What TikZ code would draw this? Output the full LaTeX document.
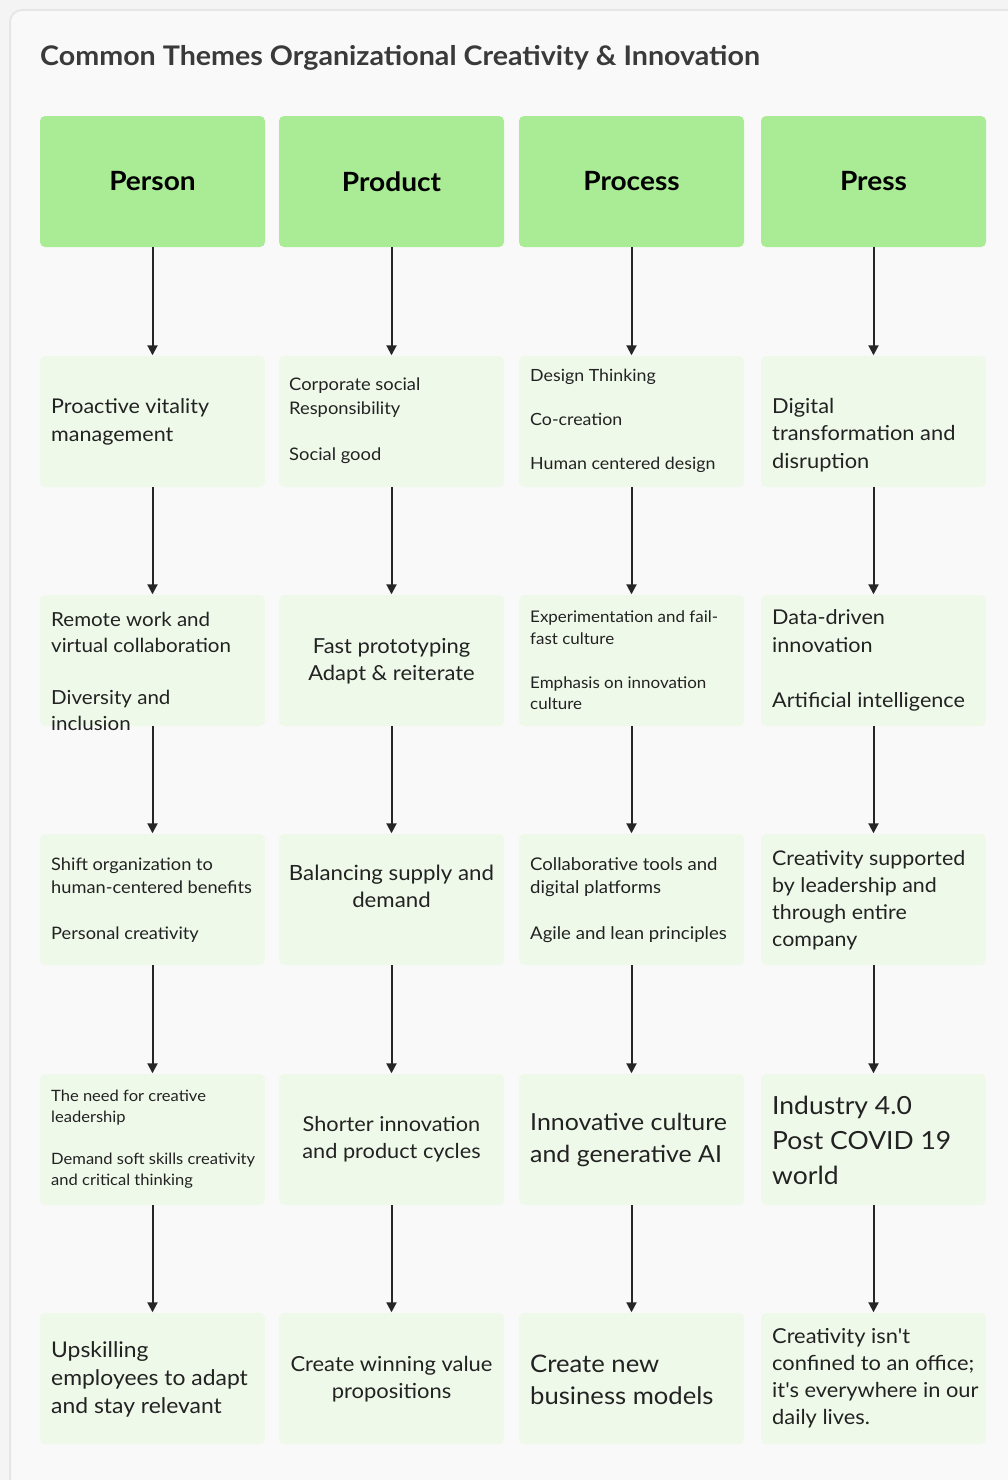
\documentclass[tikz,border=0pt]{standalone}
\usepackage{fontspec}
\setmainfont{Lato}[FakeStretch=1.06, Ligatures=TeXOff]
\usetikzlibrary{arrows.meta}
\definecolor{pagebg}{HTML}{F4F4F4}
\definecolor{cardbg}{HTML}{F9F9F9}
\definecolor{cardline}{HTML}{E6E6E6}
\definecolor{headfill}{HTML}{A9EC95}
\definecolor{cellfill}{HTML}{EFF9EA}
\definecolor{inktext}{HTML}{222222}
\definecolor{titleink}{HTML}{3A3A3A}
\definecolor{arrowink}{HTML}{262626}
\newcommand\fsz[2]{\fontsize{#1}{#2}\selectfont}
\tikzset{
  headbox/.style={fill=headfill, rounded corners=5pt, minimum width=225pt, minimum height=131pt, inner sep=0pt,
                  font=\fsz{26.5}{30}\bfseries, text=black},
  cellbox/.style={fill=cellfill, rounded corners=5pt, minimum width=225pt, minimum height=131pt, inner sep=0pt},
  txtl/.style={anchor=west, align=left, inner sep=0pt, text=inktext},
  txtc/.style={anchor=center, align=center, inner sep=0pt, text=inktext},
  flow/.style={draw=arrowink, line width=2pt, -{Triangle[length=10pt, width=10pt]}, shorten >=0.5pt}
}
\begin{document}
\begin{tikzpicture}[x=1pt, y=-1pt]
\useasboundingbox (0,0) rectangle (1008,1480);
\fill[pagebg] (0,0) rectangle (1008,1480);
\draw[cardline, fill=cardbg, line width=2pt, rounded corners=12pt] (10,10) rectangle (1040,1520);

\node[anchor=west, inner sep=0pt, text=titleink, font=\fsz{27}{31}\bfseries] (title) at (40,58)
  {Common Themes Organizational Creativity \& Innovation};

% column headers
\node[headbox] (h1) at (152.5,181.5) {Person};
\node[headbox] (h2) at (391.5,181.5) {Product};
\node[headbox] (h3) at (631.5,181.5) {Process};
\node[headbox] (h4) at (873.5,181.5) {Press};

% cell boxes, five rows per column
\foreach \c/\x in {1/152.5, 2/391.5, 3/631.5, 4/873.5}{
  \foreach \r/\y in {1/421.5, 2/660.5, 3/899.5, 4/1139.5, 5/1378.5}{
    \node[cellbox] (c\c\r) at (\x,\y) {};
  }
}

% connectors
\foreach \c in {1,2,3,4}{
  \draw[flow] (h\c.south) -- (c\c1.north);
  \draw[flow] (c\c1.south) -- (c\c2.north);
  \draw[flow] (c\c2.south) -- (c\c3.north);
  \draw[flow] (c\c3.south) -- (c\c4.north);
  \draw[flow] (c\c4.south) -- (c\c5.north);
}

% Person column
\node[txtl, font=\fsz{20.3}{28}] (t11) at (51,422) {Proactive vitality\\management};
\node[txtl, font=\fsz{19.4}{26}] (t12) at (51,671) {Remote work and\\virtual collaboration\\[26pt]Diversity and\\inclusion};
\node[txtl, font=\fsz{17.2}{23}] (t13) at (51,900) {Shift organization to\\human-centered benefits\\[23pt]Personal creativity};
\node[txtl, font=\fsz{15.6}{21}] (t14) at (51,1139.5) {The need for creative\\leadership\\[21pt]Demand soft skills creativity\\and critical thinking};
\node[txtl, font=\fsz{21.6}{28}] (t15) at (51,1379) {Upskilling\\employees to adapt\\and stay relevant};

% Product column
\node[txtl, font=\fsz{17.3}{24}] (t21) at (289,421) {Corporate social\\Responsibility\\[22pt]Social good};
\node[txtc, font=\fsz{20.7}{27}] (t22) at (391.5,661.5) {Fast prototyping\\Adapt \& reiterate};
\node[txtc, font=\fsz{21}{27}] (t23) at (391.5,886.5) {Balancing supply and\\demand};
\node[txtc, font=\fsz{20.5}{27}] (t24) at (391.5,1139.5) {Shorter innovation\\and product cycles};
\node[txtc, font=\fsz{20.7}{27}] (t25) at (391.5,1379.5) {Create winning value\\propositions};

% Process column
\node[txtl, font=\fsz{16.8}{22}] (t31) at (530,421) {Design Thinking\\[22pt]Co-creation\\[22pt]Human centered design};
\node[txtl, font=\fsz{16}{21.7}] (t32) at (530,660.5) {Experimentation and fail-\\fast culture\\[21.7pt]Emphasis on innovation\\culture};
\node[txtl, font=\fsz{17.5}{23}] (t33) at (530,900) {Collaborative tools and\\digital platforms\\[23pt]Agile and lean principles};
\node[txtl, font=\fsz{23.5}{32}] (t34) at (530,1140) {Innovative culture\\and generative AI};
\node[txtl, font=\fsz{24.2}{32}] (t35) at (530,1380) {Create new\\business models};

% Press column
\node[txtl, font=\fsz{20.6}{27.5}] (t41) at (772,435) {Digital\\transformation and\\disruption};
\node[txtl, font=\fsz{20.4}{27.7}] (t42) at (772,660.5) {Data-driven\\innovation\\[27.7pt]Artificial intelligence};
\node[txtl, font=\fsz{20.2}{27}] (t43) at (772,900.5) {Creativity supported\\by leadership and\\through entire\\company};
\node[txtl, font=\fsz{25}{35}] (t44) at (772,1140) {Industry 4.0\\Post COVID 19\\world};
\node[txtl, font=\fsz{20.6}{27}] (t45) at (772,1378.5) {Creativity isn't\\confined to an office;\\it's everywhere in our\\daily lives.};
\end{tikzpicture}
\end{document}
